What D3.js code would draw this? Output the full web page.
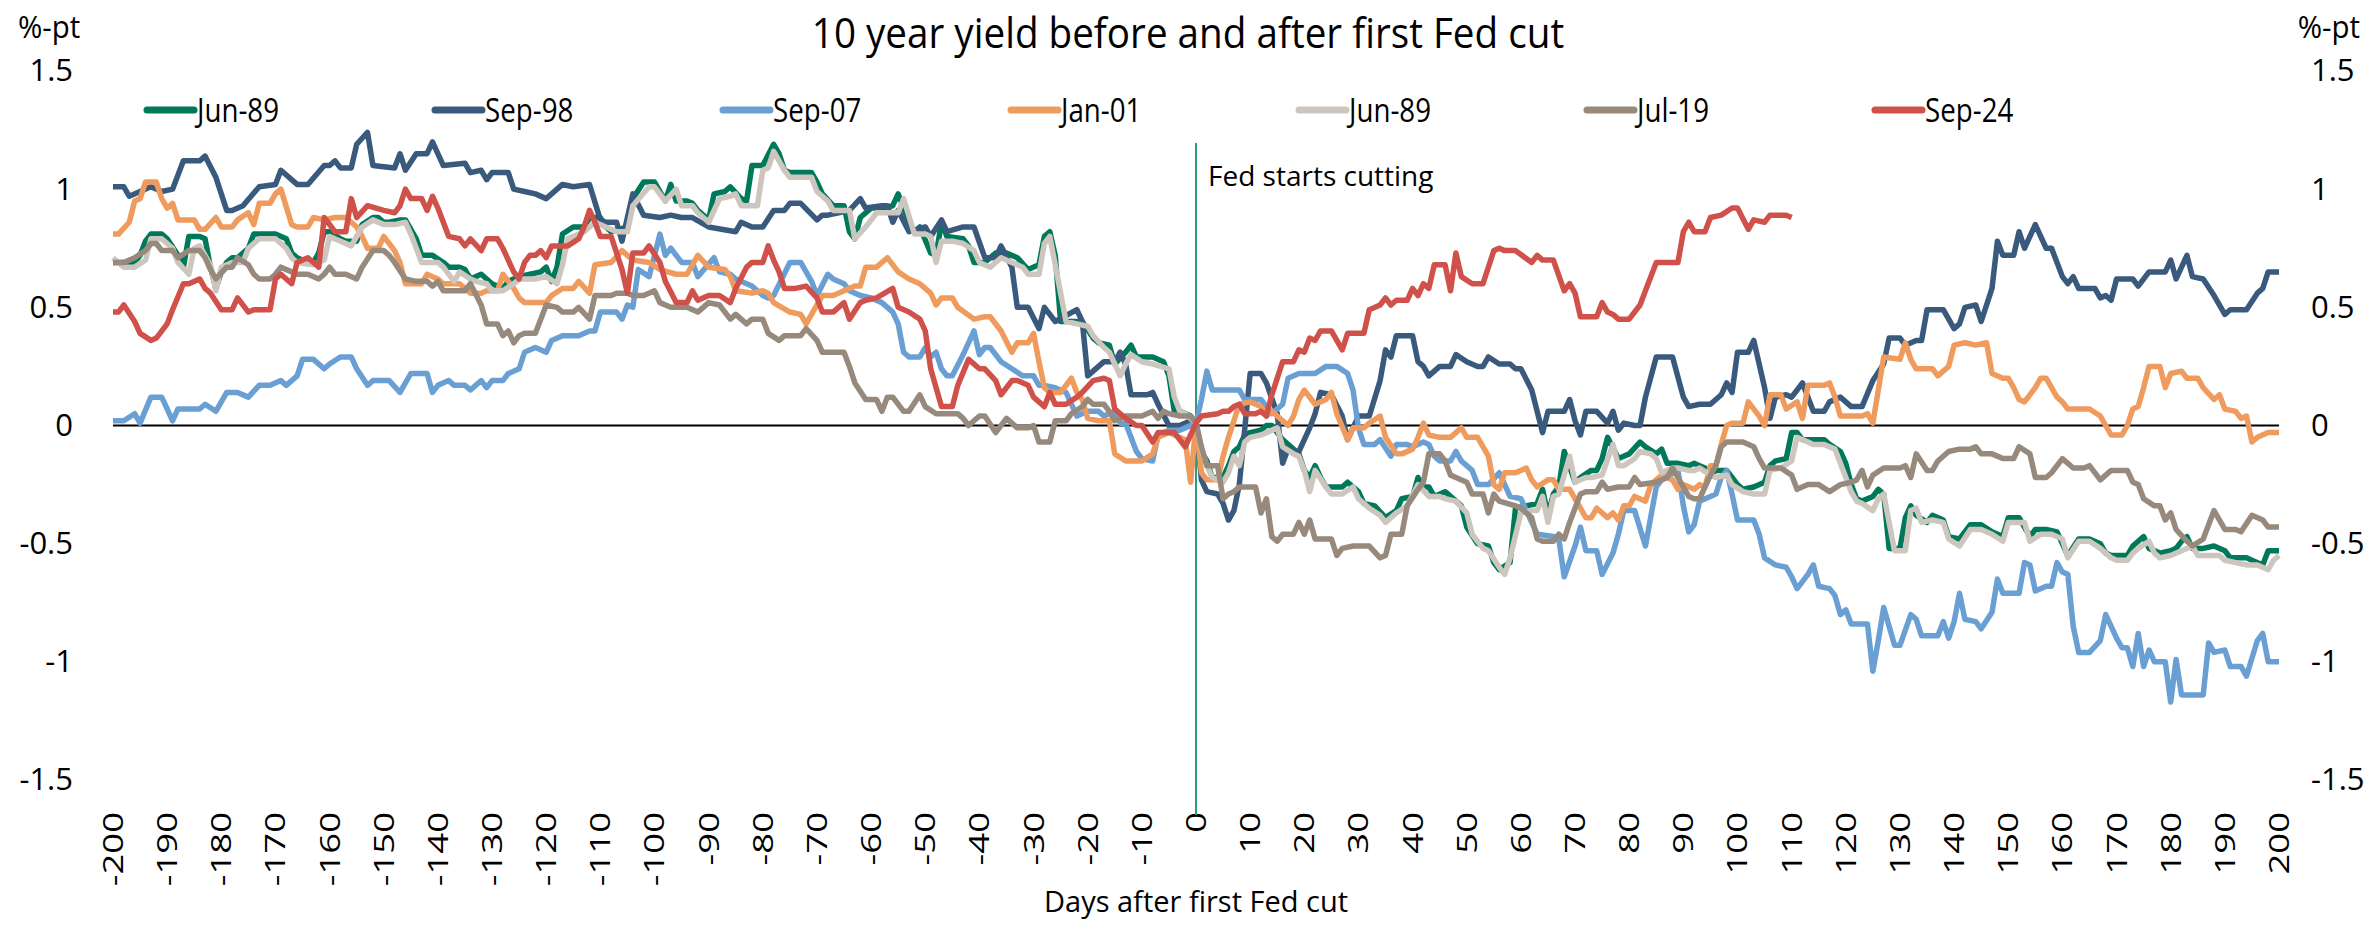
<!DOCTYPE html>
<html>
<head>
<meta charset="utf-8">
<script src="https://cdn.jsdelivr.net/npm/d3@7"></script>
<style>
  body { margin: 0; background: #fff; }
  text { font-family: "Open Sans", sans-serif; fill: #000; }
</style>
</head>
<body>
<div id="chart"></div>
<script>
// values, [day after first cut, change in %-pt]
var jun89 = [[-200,0.69],[-198,0.69],[-196,0.69],[-195,0.72],[-194,0.78],[-193,0.81],[-191,0.81],[-190,0.79],[-188,0.72],[-187,0.67],[-186,0.80],[-184,0.80],[-183,0.79],[-182,0.67],[-181,0.58],[-180,0.65],[-179,0.69],[-178,0.71],[-177,0.71],[-175,0.75],[-174,0.81],[-172,0.81],[-170,0.81],[-168,0.79],[-167,0.73],[-166,0.71],[-164,0.69],[-163,0.69],[-162,0.73],[-161,0.82],[-160,0.82],[-158,0.79],[-157,0.78],[-155,0.78],[-154,0.85],[-152,0.88],[-151,0.88],[-150,0.86],[-149,0.86],[-147,0.87],[-146,0.87],[-144,0.79],[-143,0.72],[-141,0.72],[-139,0.69],[-138,0.67],[-136,0.67],[-135,0.66],[-134,0.62],[-132,0.64],[-131,0.62],[-130,0.60],[-128,0.58],[-127,0.61],[-125,0.63],[-123,0.64],[-121,0.65],[-120,0.67],[-119,0.61],[-118,0.67],[-117,0.81],[-115,0.84],[-113,0.84],[-112,0.88],[-110,0.88],[-109,0.84],[-108,0.82],[-105,0.84],[-104,0.96],[-102,1.03],[-100,1.03],[-99,0.99],[-98,0.95],[-97,1.02],[-96,0.95],[-94,0.95],[-93,0.94],[-92,0.91],
  [-90,0.87],[-89,0.98],[-87,0.99],[-86,1.01],[-84,0.96],[-83,0.95],[-82,1.10],[-80,1.10],[-78,1.19],[-77,1.15],[-76,1.08],[-75,1.07],[-71,1.07],[-70,1.03],[-69,0.98],[-67,0.93],[-65,0.93],[-64,0.82],[-63,0.79],[-62,0.88],[-60,0.92],[-58,0.92],[-56,0.93],[-55,0.98],[-53,0.86],[-52,0.82],[-51,0.84],[-49,0.73],[-48,0.72],[-47,0.86],[-46,0.80],[-43,0.79],[-42,0.76],[-41,0.69],[-39,0.69],[-37,0.73],[-35,0.73],[-33,0.71],[-31,0.66],[-29,0.68],[-28,0.80],[-27,0.82],[-26,0.72],[-25,0.44],[-23,0.44],[-21,0.44],[-19,0.37],[-18,0.35],[-16,0.34],[-15,0.26],[-13,0.31],[-12,0.34],[-11,0.29],[-8,0.29],[-6,0.27],[-5,0.21],[-4,0.06],[-3,0.06],[-1,0.04],[0,0.01],
  [1,-0.11],[2,-0.15],[3,-0.22],[5,-0.22],[6,-0.17],[7,-0.11],[8,-0.09],[9,-0.04],[10,-0.03],[12,-0.02],[13,0.0],[14,0.0],[16,-0.06],[18,-0.10],[19,-0.12],[20,-0.19],[21,-0.22],[22,-0.17],[23,-0.22],[24,-0.26],[27,-0.26],[28,-0.24],[30,-0.28],[31,-0.33],[33,-0.34],[35,-0.39],[37,-0.36],[38,-0.31],[40,-0.30],[41,-0.22],[42,-0.26],[43,-0.26],[44,-0.30],[46,-0.28],[47,-0.30],[49,-0.34],[50,-0.43],[52,-0.50],[54,-0.51],[55,-0.58],[56,-0.61],[58,-0.58],[59,-0.35],[61,-0.34],[63,-0.33],[64,-0.27],[65,-0.38],[66,-0.29],[67,-0.26],[68,-0.11],[70,-0.24],[71,-0.22],[73,-0.19],[74,-0.19],[75,-0.14],[76,-0.05],[78,-0.14],[79,-0.13],[80,-0.12],[82,-0.07],[83,-0.09],[85,-0.12],[86,-0.10],[87,-0.16],[89,-0.16],[91,-0.17],[92,-0.16],
  [93,-0.17],[94,-0.18],[95,-0.21],[96,-0.19],[98,-0.19],[99,-0.22],[100,-0.25],[101,-0.27],[103,-0.26],[105,-0.24],[106,-0.17],[107,-0.15],[109,-0.14],[110,-0.03],[111,-0.03],[112,-0.06],[114,-0.06],[116,-0.06],[117,-0.08],[119,-0.11],[120,-0.16],[121,-0.25],[122,-0.31],[123,-0.32],[125,-0.30],[126,-0.27],[127,-0.29],[128,-0.52],[130,-0.52],[131,-0.39],[132,-0.34],[133,-0.38],[135,-0.41],[136,-0.38],[138,-0.40],[139,-0.47],[141,-0.48],[143,-0.42],[145,-0.42],[147,-0.45],[149,-0.47],[150,-0.39],[152,-0.39],[154,-0.47],[155,-0.44],[157,-0.44],[159,-0.45],[161,-0.55],[163,-0.48],[165,-0.48],[167,-0.50],[168,-0.54],[169,-0.55],[172,-0.55],[173,-0.51],[174,-0.49],[175,-0.47],[176,-0.52],[178,-0.54],[180,-0.53],[181,-0.52],[182,-0.49],[183,-0.47],[184,-0.52],[186,-0.52],[188,-0.51],[190,-0.53],[191,-0.56],[194,-0.56],[195,-0.57],[197,-0.59],[198,-0.53],[200,-0.53]];

var sep98 = [[-200,1.01],[-198,1.01],[-197,0.97],[-195,0.99],[-193,1.01],[-191,0.99],[-189,1.0],[-187,1.12],[-184,1.12],[-183,1.14],[-181,1.05],[-179,0.91],[-178,0.91],[-176,0.93],[-173,1.01],[-170,1.02],[-169,1.08],[-166,1.02],[-164,1.02],[-161,1.10],[-160,1.10],[-159,1.12],[-158,1.09],[-156,1.09],[-155,1.19],[-153,1.24],[-152,1.10],[-148,1.09],[-147,1.15],[-146,1.08],[-144,1.15],[-142,1.15],[-141,1.20],[-139,1.10],[-135,1.11],[-134,1.07],[-132,1.08],[-131,1.04],[-130,1.07],[-127,1.07],[-126,1.00],[-124,0.99],[-122,0.98],[-120,0.96],[-119,0.98],[-117,1.02],[-115,1.01],[-112,1.02],[-110,0.87],[-109,0.86],[-107,0.86],[-106,0.78],[-104,0.98],[-102,0.89],[-99,0.88],[-97,0.89],[-95,0.88],[-93,0.88],
  [-90,0.84],[-85,0.82],[-84,0.86],[-82,0.84],[-80,0.84],[-78,0.91],[-76,0.91],[-75,0.94],[-73,0.94],[-70,0.87],[-69,0.89],[-68,0.89],[-66,0.90],[-64,0.91],[-62,0.96],[-61,0.92],[-58,0.93],[-57,0.93],[-56,0.86],[-55,0.91],[-53,0.82],[-50,0.84],[-49,0.80],[-47,0.87],[-46,0.82],[-43,0.84],[-41,0.84],[-39,0.71],[-37,0.71],[-36,0.76],[-34,0.67],[-33,0.50],[-31,0.50],[-29,0.41],[-28,0.50],[-26,0.44],[-22,0.49],[-21,0.44],[-20,0.21],[-17,0.27],[-15,0.27],[-14,0.31],[-13,0.26],[-12,0.13],[-9,0.13],[-8,0.14],[-7,0.09],[-5,0.00],[-3,0.00],[-1,0.02],[0,0.01],
  [1,-0.23],[2,-0.28],[4,-0.29],[5,-0.33],[6,-0.40],[7,-0.36],[8,-0.25],[10,0.22],[12,0.22],[13,0.18],[15,0.05],[16,-0.16],[17,-0.10],[18,-0.11],[19,-0.11],[21,-0.01],[22,0.05],[23,0.14],[25,0.13],[27,0.04],[28,-0.06],[30,0.04],[32,0.04],[34,0.19],[35,0.32],[36,0.29],[37,0.38],[40,0.38],[41,0.27],[42,0.25],[43,0.21],[45,0.25],[47,0.25],[48,0.30],[50,0.27],[52,0.25],[53,0.25],[54,0.29],[56,0.26],[58,0.26],[59,0.24],[60,0.24],[62,0.15],[64,-0.03],[65,0.06],[68,0.06],[69,0.11],[70,0.02],[71,-0.04],[72,0.06],[74,0.06],[76,0.01],[77,0.06],[78,-0.02],[79,0.01],[81,0.0],[82,0.0],[83,0.12],[85,0.29],[88,0.29],[90,0.12],[91,0.08],[93,0.09],
  [95,0.09],[97,0.13],[98,0.18],[99,0.14],[100,0.31],[102,0.31],[103,0.36],[105,0.16],[106,0.03],[107,0.12],[109,0.13],[110,0.12],[112,0.18],[114,0.06],[116,0.06],[117,0.10],[119,0.12],[121,0.08],[123,0.08],[125,0.19],[127,0.26],[128,0.37],[130,0.37],[131,0.34],[133,0.36],[134,0.36],[135,0.49],[138,0.49],[140,0.41],[141,0.43],[142,0.50],[144,0.51],[145,0.44],[147,0.58],[148,0.78],[149,0.72],[151,0.72],[152,0.82],[153,0.75],[155,0.85],[157,0.75],[158,0.75],[160,0.63],[161,0.60],[162,0.63],[163,0.58],[166,0.58],[167,0.54],[168,0.55],[169,0.53],[170,0.62],[173,0.62],[174,0.59],[176,0.65],[179,0.65],[180,0.70],[181,0.62],[183,0.72],[184,0.63],[186,0.62],[188,0.55],[190,0.47],[191,0.49],[194,0.49],[196,0.56],[197,0.58],[198,0.65],[200,0.65]];

var sep07 = [[-200,0.02],[-198,0.02],[-196,0.05],[-195,0.01],[-193,0.12],[-191,0.12],[-190,0.07],[-189,0.02],[-188,0.07],[-184,0.07],[-183,0.09],[-181,0.06],[-179,0.14],[-177,0.14],[-175,0.12],[-173,0.17],[-171,0.17],[-169,0.19],[-168,0.17],[-166,0.21],[-165,0.28],[-163,0.28],[-161,0.24],[-160,0.26],[-158,0.29],[-156,0.29],[-155,0.24],[-153,0.17],[-152,0.19],[-149,0.19],[-147,0.14],[-145,0.22],[-142,0.22],[-141,0.14],[-140,0.17],[-138,0.19],[-137,0.17],[-135,0.17],[-134,0.15],[-132,0.19],[-131,0.16],[-130,0.19],[-128,0.19],[-127,0.22],[-125,0.24],[-124,0.31],[-122,0.33],[-120,0.31],[-119,0.36],[-117,0.38],[-114,0.38],[-112,0.40],[-111,0.40],[-110,0.48],[-107,0.48],[-106,0.45],[-105,0.51],[-104,0.50],[-103,0.66],[-101,0.63],[-99,0.81],[-98,0.72],[-97,0.75],[-95,0.69],[-93,0.69],
  [-92,0.63],[-89,0.71],[-88,0.65],[-86,0.64],[-85,0.62],[-82,0.59],[-80,0.55],[-79,0.54],[-78,0.55],[-75,0.69],[-73,0.69],[-71,0.61],[-70,0.55],[-68,0.64],[-67,0.62],[-65,0.60],[-64,0.57],[-62,0.55],[-60,0.54],[-58,0.52],[-56,0.48],[-55,0.43],[-54,0.31],[-53,0.29],[-51,0.29],[-50,0.33],[-49,0.29],[-48,0.31],[-47,0.24],[-46,0.21],[-45,0.21],[-43,0.30],[-41,0.40],[-40,0.30],[-39,0.33],[-38,0.33],[-36,0.27],[-34,0.24],[-32,0.21],[-30,0.21],[-29,0.17],[-28,0.17],[-26,0.16],[-24,0.14],[-22,0.04],[-20,0.06],[-18,0.06],[-17,0.04],[-15,0.06],[-14,0.01],[-13,0.01],[-11,-0.11],[-10,-0.14],[-8,-0.15],[-7,-0.04],[-5,-0.02],[-3,-0.02],[-2,-0.01],[0,0.01],
  [1,0.11],[2,0.23],[3,0.15],[5,0.15],[6,0.15],[8,0.15],[9,0.11],[11,0.11],[12,0.11],[14,0.05],[16,0.09],[17,0.20],[19,0.22],[22,0.22],[24,0.25],[26,0.25],[28,0.22],[29,0.15],[30,-0.01],[31,-0.08],[33,-0.08],[34,-0.06],[36,-0.13],[37,-0.08],[39,-0.08],[40,-0.09],[42,-0.07],[43,-0.08],[44,-0.13],[45,-0.15],[47,-0.15],[48,-0.11],[49,-0.15],[51,-0.19],[52,-0.25],[54,-0.25],[56,-0.20],[58,-0.30],
  [60,-0.31],[62,-0.41],[63,-0.46],[66,-0.47],[67,-0.48],[68,-0.64],[70,-0.51],[71,-0.43],[72,-0.53],[74,-0.53],[75,-0.63],[77,-0.54],[78,-0.46],[79,-0.36],[81,-0.36],[83,-0.51],[85,-0.26],[86,-0.23],[89,-0.19],[90,-0.34],[91,-0.45],[92,-0.42],
  [93,-0.32],[95,-0.30],[96,-0.29],[97,-0.22],[98,-0.19],[99,-0.29],[100,-0.40],[103,-0.40],[104,-0.46],[105,-0.56],[107,-0.59],[109,-0.60],[110,-0.64],[111,-0.69],[113,-0.63],[114,-0.59],[115,-0.68],[117,-0.69],[118,-0.72],[119,-0.80],[120,-0.78],[121,-0.84],[124,-0.84],[125,-1.04],[126,-0.91],[127,-0.77],[129,-0.93],[130,-0.93],[132,-0.80],[133,-0.82],[134,-0.89],[137,-0.89],[138,-0.83],[139,-0.90],[140,-0.83],[141,-0.71],[142,-0.82],[144,-0.83],[145,-0.86],[147,-0.79],[148,-0.65],[149,-0.71],[152,-0.71],[153,-0.58],[154,-0.59],[155,-0.70],[157,-0.68],[158,-0.68],[159,-0.58],[160,-0.62],[161,-0.63],[162,-0.85],[163,-0.96],[165,-0.96],[167,-0.91],[168,-0.80],[170,-0.90],[171,-0.94],[172,-0.94],[173,-1.02],[174,-0.88],[175,-1.02],[176,-0.95],[177,-1.00],[179,-1.00],[180,-1.17],[181,-0.99],[182,-1.14],[186,-1.14],[187,-0.92],[188,-0.96],[190,-0.95],[191,-1.02],[193,-1.02],[194,-1.06],[196,-0.91],[197,-0.88],[198,-1.00],[200,-1.00]];

var jan01 = [[-200,0.81],[-199,0.81],[-197,0.86],[-196,0.95],[-195,0.96],[-194,1.03],[-192,1.03],[-191,0.96],[-190,0.92],[-189,0.94],[-188,0.87],[-185,0.87],[-184,0.83],[-183,0.83],[-181,0.88],[-180,0.84],[-178,0.84],[-177,0.87],[-175,0.90],[-174,0.85],[-173,0.94],[-171,0.94],[-170,0.98],[-169,1.0],[-167,0.85],[-166,0.84],[-164,0.84],[-163,0.88],[-161,0.87],[-159,0.88],[-157,0.88],[-155,0.84],[-154,0.80],[-153,0.75],[-151,0.75],[-150,0.80],[-148,0.74],[-147,0.69],[-146,0.60],[-143,0.60],[-142,0.64],[-140,0.62],[-139,0.60],[-136,0.60],[-134,0.56],[-132,0.56],[-131,0.57],[-129,0.57],[-128,0.64],[-126,0.58],[-125,0.54],[-124,0.52],[-120,0.52],[-119,0.55],[-117,0.58],[-115,0.58],[-114,0.61],[-112,0.56],[-111,0.68],[-108,0.69],[-106,0.74],[-105,0.72],[-104,0.70],[-101,0.69],[-99,0.66],[-96,0.64],[-94,0.64],[-92,0.72],
  [-90,0.67],[-87,0.66],[-86,0.63],[-85,0.57],[-82,0.56],[-80,0.57],[-79,0.56],[-78,0.52],[-75,0.48],[-73,0.47],[-72,0.43],[-70,0.51],[-69,0.55],[-67,0.55],[-65,0.57],[-63,0.59],[-62,0.59],[-61,0.67],[-59,0.67],[-57,0.71],[-55,0.65],[-53,0.62],[-51,0.60],[-49,0.56],[-48,0.51],[-47,0.54],[-45,0.54],[-44,0.50],[-41,0.45],[-39,0.46],[-38,0.46],[-36,0.40],[-34,0.31],[-33,0.35],[-31,0.35],[-30,0.39],[-29,0.27],[-28,0.16],[-27,0.14],[-25,0.14],[-23,0.20],[-22,0.14],[-21,0.11],[-20,0.03],[-18,0.02],[-16,0.02],[-15,-0.12],[-13,-0.15],[-10,-0.15],[-8,-0.12],[-7,-0.05],[-5,-0.03],[-4,-0.04],[-2,-0.06],[-1,-0.24],[0,0.01],
  [1,-0.20],[2,-0.23],[4,-0.23],[5,-0.13],[6,-0.05],[7,0.02],[8,0.09],[10,0.10],[12,0.08],[13,0.04],[14,0.06],[15,0.04],[17,0.0],[18,0.04],[19,0.11],[20,0.15],[22,0.09],[24,0.11],[25,0.14],[26,0.05],[28,-0.06],[29,-0.01],[31,-0.01],[32,0.01],[34,0.04],[35,-0.05],[37,-0.12],[38,-0.12],[40,-0.10],[41,-0.05],[42,0.01],[43,-0.04],[45,-0.05],[47,-0.05],[49,-0.01],[50,-0.05],[52,-0.05],[54,-0.13],[55,-0.25],[56,-0.27],[57,-0.20],[59,-0.20],[61,-0.18],[62,-0.23],[63,-0.26],[65,-0.23],[66,-0.23],[67,-0.27],[69,-0.27],[71,-0.35],[72,-0.39],[73,-0.39],[74,-0.35],[76,-0.39],[77,-0.37],[78,-0.40],[79,-0.34],[80,-0.34],[81,-0.30],[83,-0.32],[84,-0.25],[86,-0.21],[88,-0.23],[89,-0.27],[90,-0.25],[92,-0.27],
  [93,-0.25],[94,-0.26],[95,-0.17],[96,-0.17],[97,-0.08],[98,0.0],[99,0.01],[101,0.01],[102,0.10],[104,0.04],[105,0.0],[106,0.13],[108,0.13],[109,0.07],[111,0.10],[112,0.03],[113,0.17],[116,0.17],[117,0.18],[118,0.12],[119,0.04],[123,0.04],[124,0.05],[125,0.01],[127,0.29],[130,0.28],[131,0.35],[132,0.28],[133,0.24],[136,0.24],[137,0.21],[139,0.25],[140,0.34],[142,0.35],[144,0.34],[146,0.35],[147,0.22],[149,0.20],[150,0.20],[151,0.16],[152,0.11],[153,0.10],[155,0.16],[156,0.20],[157,0.20],[159,0.12],[160,0.10],[161,0.07],[163,0.07],[165,0.07],[167,0.04],[168,0.0],[169,-0.04],[171,-0.04],[172,0.0],[173,0.07],[174,0.08],[175,0.16],[176,0.25],[178,0.25],[179,0.16],[180,0.22],[182,0.23],[183,0.20],[185,0.20],[186,0.16],[188,0.11],[189,0.13],[190,0.07],[192,0.06],[193,0.03],[194,0.04],[195,-0.07],[196,-0.05],[198,-0.03],[200,-0.03]];

var jun89b = [[-200,0.71],[-198,0.67],[-196,0.67],[-194,0.70],[-193,0.79],[-191,0.79],[-189,0.75],[-188,0.69],[-186,0.64],[-185,0.75],[-184,0.76],[-182,0.68],[-181,0.57],[-180,0.67],[-178,0.69],[-176,0.69],[-175,0.75],[-173,0.79],[-170,0.79],[-168,0.75],[-167,0.71],[-166,0.69],[-163,0.68],[-161,0.70],[-160,0.80],[-158,0.78],[-156,0.76],[-154,0.84],[-152,0.87],[-150,0.85],[-148,0.85],[-146,0.86],[-145,0.81],[-143,0.69],[-140,0.69],[-139,0.67],[-137,0.61],[-136,0.65],[-134,0.62],[-133,0.61],[-131,0.60],[-130,0.57],[-128,0.57],[-126,0.60],[-125,0.62],[-122,0.62],[-120,0.63],[-118,0.60],[-117,0.68],[-116,0.79],[-113,0.82],[-111,0.86],[-109,0.84],[-107,0.82],[-105,0.82],[-104,0.93],[-101,1.01],[-100,1.01],[-98,0.95],[-96,1.0],[-95,0.93],[-93,0.93],[-92,0.90],
  [-90,0.86],[-88,0.96],[-86,0.97],[-85,0.98],[-84,0.93],[-81,0.93],[-80,1.08],[-79,1.09],[-78,1.16],[-76,1.08],[-75,1.05],[-71,1.05],[-70,0.99],[-68,0.95],[-67,0.91],[-64,0.91],[-63,0.79],[-61,0.84],[-59,0.90],[-57,0.90],[-55,0.90],[-54,0.96],[-52,0.81],[-50,0.81],[-49,0.80],[-48,0.69],[-47,0.78],[-45,0.78],[-43,0.77],[-41,0.74],[-40,0.69],[-38,0.67],[-36,0.71],[-34,0.69],[-32,0.67],[-31,0.64],[-29,0.64],[-28,0.77],[-27,0.80],[-26,0.68],[-24,0.44],[-22,0.43],[-20,0.42],[-19,0.38],[-17,0.33],[-16,0.31],[-14,0.21],[-13,0.26],[-12,0.30],[-10,0.27],[-8,0.26],[-5,0.24],[-4,0.12],[-3,0.06],[-2,0.05],[0,0.01],
  [1,-0.10],[2,-0.17],[3,-0.22],[5,-0.24],[6,-0.20],[7,-0.13],[8,-0.17],[9,-0.07],[10,-0.05],[12,-0.04],[14,-0.02],[15,-0.01],[16,-0.09],[18,-0.12],[19,-0.13],[20,-0.19],[21,-0.28],[22,-0.19],[24,-0.26],[25,-0.29],[27,-0.29],[29,-0.26],[30,-0.31],[32,-0.35],[34,-0.38],[35,-0.41],[37,-0.37],[39,-0.34],[41,-0.25],[43,-0.30],[45,-0.30],[46,-0.31],[48,-0.32],[50,-0.37],[51,-0.46],[53,-0.52],[54,-0.53],[56,-0.60],[57,-0.63],[58,-0.56],[60,-0.37],[62,-0.36],[63,-0.36],[64,-0.30],[65,-0.41],[66,-0.30],[67,-0.29],[69,-0.13],[70,-0.24],[72,-0.22],[73,-0.22],[75,-0.21],[77,-0.08],[78,-0.17],[79,-0.17],[81,-0.14],[82,-0.11],[84,-0.12],[85,-0.14],[86,-0.20],[88,-0.18],[89,-0.18],[91,-0.19],[92,-0.19],
  [93,-0.18],[95,-0.21],[96,-0.22],[98,-0.21],[99,-0.25],[101,-0.28],[103,-0.29],[105,-0.29],[106,-0.19],[108,-0.18],[110,-0.15],[111,-0.05],[113,-0.07],[114,-0.08],[116,-0.08],[118,-0.10],[119,-0.16],[121,-0.28],[122,-0.32],[123,-0.33],[125,-0.36],[126,-0.31],[127,-0.29],[129,-0.53],[131,-0.53],[132,-0.36],[133,-0.35],[134,-0.41],[136,-0.40],[138,-0.41],[139,-0.48],[141,-0.51],[143,-0.44],[145,-0.44],[147,-0.46],[149,-0.49],[150,-0.41],[153,-0.41],[154,-0.49],[156,-0.46],[158,-0.46],[160,-0.48],[161,-0.56],[163,-0.49],[165,-0.49],[167,-0.52],[169,-0.56],[170,-0.57],[172,-0.57],[173,-0.54],[174,-0.52],[176,-0.49],[177,-0.54],[178,-0.56],[180,-0.55],[182,-0.53],[184,-0.51],[185,-0.55],[187,-0.55],[189,-0.55],[190,-0.57],[192,-0.58],[194,-0.59],[196,-0.59],[198,-0.61],[199,-0.57],[200,-0.55]];

var jul19 = [[-200,0.69],[-198,0.69],[-196,0.71],[-194,0.74],[-193,0.77],[-192,0.77],[-191,0.74],[-189,0.74],[-188,0.71],[-186,0.74],[-184,0.74],[-183,0.71],[-182,0.66],[-181,0.62],[-179,0.67],[-178,0.67],[-177,0.71],[-175,0.68],[-174,0.64],[-173,0.62],[-171,0.62],[-170,0.64],[-169,0.67],[-167,0.65],[-166,0.64],[-164,0.64],[-162,0.62],[-161,0.64],[-160,0.67],[-159,0.64],[-157,0.64],[-155,0.62],[-154,0.67],[-152,0.74],[-150,0.74],[-149,0.72],[-148,0.69],[-146,0.62],[-144,0.61],[-142,0.61],[-141,0.59],[-140,0.61],[-139,0.57],[-137,0.57],[-135,0.57],[-134,0.60],[-132,0.51],[-131,0.43],[-129,0.43],[-128,0.38],[-127,0.40],[-126,0.35],[-125,0.38],[-124,0.39],[-122,0.39],[-121,0.45],[-120,0.51],[-118,0.50],[-117,0.48],[-115,0.48],[-114,0.50],[-112,0.45],[-111,0.55],[-108,0.55],[-107,0.56],[-105,0.56],[-104,0.55],[-102,0.55],[-100,0.57],[-99,0.52],[-97,0.50],[-94,0.50],[-92,0.48],
  [-90,0.52],[-88,0.51],[-87,0.48],[-86,0.45],[-85,0.47],[-83,0.43],[-82,0.45],[-80,0.45],[-79,0.39],[-77,0.36],[-76,0.38],[-73,0.38],[-72,0.41],[-70,0.36],[-69,0.31],[-67,0.31],[-65,0.31],[-64,0.25],[-63,0.18],[-61,0.11],[-59,0.11],[-58,0.06],[-57,0.12],[-56,0.12],[-54,0.06],[-53,0.06],[-51,0.13],[-50,0.08],[-48,0.05],[-46,0.05],[-44,0.05],[-43,0.03],[-42,0.0],[-40,0.04],[-39,0.04],[-37,-0.03],[-35,0.03],[-33,-0.01],[-31,-0.01],[-30,0.0],[-29,-0.07],[-27,-0.07],[-26,0.02],[-24,0.02],[-23,0.05],[-21,0.08],[-20,0.11],[-19,0.09],[-17,0.09],[-16,0.06],[-15,0.02],[-13,0.04],[-11,0.04],[-10,0.04],[-8,0.06],[-7,0.03],[-6,0.06],[-5,0.05],[-3,0.04],[-1,0.04],[0,0.01],
  [1,-0.09],[2,-0.17],[4,-0.17],[5,-0.31],[6,-0.29],[7,-0.28],[8,-0.26],[11,-0.26],[12,-0.37],[13,-0.31],[14,-0.47],[15,-0.49],[16,-0.46],[18,-0.46],[19,-0.41],[20,-0.46],[21,-0.40],[22,-0.48],[25,-0.48],[26,-0.55],[27,-0.52],[29,-0.51],[32,-0.51],[34,-0.56],[35,-0.55],[36,-0.46],[38,-0.46],[39,-0.34],[41,-0.27],[42,-0.24],[43,-0.12],[45,-0.12],[46,-0.15],[47,-0.21],[48,-0.22],[50,-0.24],[51,-0.29],[53,-0.29],[54,-0.37],[55,-0.29],[56,-0.32],[59,-0.34],[60,-0.35],[62,-0.39],[63,-0.48],[64,-0.49],[66,-0.49],[67,-0.46],[68,-0.48],[69,-0.41],[71,-0.29],[72,-0.28],[74,-0.28],[75,-0.24],[76,-0.27],[78,-0.26],[80,-0.26],[81,-0.22],[82,-0.25],[85,-0.24],[87,-0.22],[88,-0.18],[89,-0.22],[91,-0.30],[92,-0.31],
  [93,-0.31],[95,-0.21],[96,-0.17],[97,-0.09],[98,-0.07],[101,-0.07],[103,-0.09],[104,-0.14],[105,-0.18],[106,-0.18],[108,-0.18],[110,-0.21],[111,-0.27],[113,-0.25],[115,-0.25],[117,-0.28],[119,-0.25],[121,-0.24],[122,-0.23],[123,-0.19],[124,-0.26],[125,-0.21],[127,-0.18],[129,-0.18],[130,-0.18],[131,-0.17],[132,-0.22],[133,-0.12],[135,-0.19],[136,-0.19],[137,-0.15],[139,-0.11],[141,-0.10],[143,-0.10],[144,-0.09],[145,-0.12],[147,-0.12],[149,-0.14],[151,-0.14],[152,-0.09],[154,-0.12],[155,-0.22],[157,-0.22],[158,-0.20],[160,-0.14],[162,-0.18],[164,-0.18],[165,-0.17],[167,-0.23],[169,-0.19],[172,-0.19],[173,-0.24],[174,-0.25],[175,-0.31],[177,-0.34],[178,-0.34],[179,-0.40],[180,-0.37],[181,-0.44],[183,-0.49],[184,-0.51],[186,-0.48],[187,-0.42],[188,-0.36],[190,-0.44],[192,-0.44],[193,-0.45],[195,-0.38],[197,-0.40],[198,-0.43],[200,-0.43]];

var sep24 = [[-200,0.48],[-199,0.48],[-198,0.51],[-196,0.44],[-195,0.39],[-193,0.36],[-192,0.37],[-190,0.43],[-189,0.49],[-187,0.60],[-186,0.60],[-184,0.62],[-183,0.58],[-182,0.56],[-180,0.49],[-178,0.49],[-177,0.54],[-175,0.48],[-174,0.49],[-171,0.49],[-170,0.62],[-169,0.64],[-167,0.60],[-166,0.69],[-165,0.70],[-164,0.71],[-162,0.67],[-161,0.88],[-159,0.82],[-157,0.82],[-156,0.96],[-155,0.88],[-153,0.93],[-150,0.91],[-148,0.90],[-147,0.93],[-146,1.0],[-145,0.96],[-143,0.96],[-142,0.91],[-141,0.97],[-140,0.92],[-139,0.86],[-138,0.80],[-136,0.79],[-135,0.76],[-134,0.79],[-132,0.74],[-131,0.79],[-129,0.79],[-128,0.75],[-126,0.65],[-125,0.62],[-124,0.69],[-123,0.72],[-122,0.72],[-121,0.74],[-120,0.71],[-119,0.76],[-116,0.76],[-114,0.79],[-113,0.84],[-112,0.91],[-111,0.86],[-110,0.80],[-108,0.80],[-107,0.73],[-106,0.66],[-105,0.56],[-104,0.73],[-102,0.73],[-101,0.76],[-99,0.69],[-98,0.61],[-96,0.52],[-94,0.52],[-93,0.57],[-92,0.53],
  [-90,0.55],[-88,0.55],[-86,0.52],[-85,0.58],[-83,0.67],[-82,0.69],[-80,0.69],[-79,0.76],[-78,0.70],[-77,0.65],[-76,0.58],[-74,0.58],[-72,0.59],[-70,0.54],[-69,0.48],[-67,0.48],[-65,0.52],[-64,0.45],[-62,0.52],[-61,0.53],[-59,0.54],[-56,0.58],[-55,0.50],[-53,0.48],[-51,0.45],[-50,0.40],[-49,0.24],[-47,0.08],[-45,0.08],[-44,0.17],[-42,0.28],[-40,0.24],[-39,0.24],[-37,0.19],[-36,0.13],[-34,0.19],[-33,0.19],[-31,0.17],[-30,0.12],[-28,0.08],[-27,0.14],[-26,0.09],[-24,0.09],[-22,0.12],[-21,0.14],[-19,0.19],[-17,0.20],[-16,0.19],[-15,0.07],[-13,0.03],[-11,0.0],[-10,0.0],[-8,-0.07],[-7,-0.03],[-4,-0.03],[-2,-0.09],[0,0.01],
  [1,0.04],[4,0.05],[5,0.06],[6,0.06],[7,0.08],[8,0.09],[9,0.05],[11,0.05],[12,0.06],[13,0.04],[14,0.13],[16,0.27],[18,0.27],[19,0.32],[20,0.31],[21,0.37],[22,0.36],[23,0.40],[25,0.40],[27,0.32],[28,0.39],[31,0.39],[32,0.49],[34,0.51],[35,0.54],[36,0.51],[37,0.53],[39,0.53],[40,0.58],[41,0.55],[42,0.60],[43,0.58],[44,0.68],[46,0.68],[47,0.57],[48,0.73],[49,0.63],[51,0.60],[53,0.60],[55,0.74],[56,0.75],[57,0.74],[59,0.74],[62,0.69],[63,0.72],[64,0.70],[66,0.70],[68,0.57],[69,0.60],[70,0.56],[71,0.46],[74,0.46],[75,0.52],[76,0.48],[77,0.47],[78,0.45],[80,0.45],[82,0.51],[83,0.57],[85,0.69],[87,0.69],[89,0.69],[90,0.82],[91,0.86],[92,0.82],
  [94,0.82],[95,0.88],[97,0.89],[99,0.92],[100,0.92],[102,0.83],[103,0.87],[105,0.86],[106,0.89],[109,0.89],[110,0.88]];

var seriesData = [jun89, sep98, sep07, jan01, jun89b, jul19, sep24];
var seriesNames = ["Jun-89", "Sep-98", "Sep-07", "Jan-01", "Jun-89", "Jul-19", "Sep-24"];
var seriesColors = ["#00785a", "#395a7d", "#6a9fd4", "#ef9b5d", "#cdc6bf", "#978a7c", "#cf514a"];
var yTicks = [-1.5, -1, -0.5, 0, 0.5, 1, 1.5];
var xTicks = d3.range(-200, 201, 10);

var width = 2377, height = 927;

var svg = d3.select("#chart")
  .append("svg")
    .attr("width", width)
    .attr("height", height);

var x = d3.scaleLinear().domain([-200, 200]).range([113, 2279]);
var y = d3.scaleLinear().domain([-1.5, 1.5]).range([780, 71]);

// the source font is a bit narrower than Open Sans, so squeeze text sideways
function label(px, py, str, size, squeeze, anchor) {
  return svg.append("text")
    .attr("transform", "translate(" + px + "," + py + ") scale(" + squeeze + ",1)")
    .attr("dy", "0.35em")
    .attr("text-anchor", anchor || "start")
    .style("font-size", size + "px")
    .text(str);
}

// title
label(1188, 33, "10 year yield before and after first Fed cut", 42, 0.92, "middle");

// unit labels
label(18, 27, "%-pt", 31, 0.95);
label(2360, 27, "%-pt", 31, 0.95, "end");

// y axes, labels only
var yLeft = svg.append("g")
  .attr("transform", "translate(73,0)")
  .call(d3.axisLeft(y).tickValues(yTicks).tickSize(0).tickPadding(0).tickFormat(function(d) { return String(d); }));
var yRight = svg.append("g")
  .attr("transform", "translate(2311,0)")
  .call(d3.axisRight(y).tickValues(yTicks).tickSize(0).tickPadding(0).tickFormat(function(d) { return String(d); }));
[yLeft, yRight].forEach(function(g) {
  g.select(".domain").remove();
  g.selectAll("text").style("font-size", "31px").style("font-family", "'Open Sans', sans-serif").attr("fill", "#000");
});

// x axis, rotated labels
var xAxis = svg.append("g")
  .attr("transform", "translate(0,812)")
  .call(d3.axisBottom(x).tickValues(xTicks).tickSize(0).tickPadding(0).tickFormat(function(d) { return String(d); }));
xAxis.select(".domain").remove();
xAxis.selectAll("text")
  .attr("y", 0)
  .attr("x", 0)
  .attr("dy", "0.35em")
  .attr("text-anchor", "end")
  .attr("transform", "rotate(-90) scale(1.35,1)")
  .attr("fill", "#000")
  .style("font-size", "27px")
  .style("font-family", "'Open Sans', sans-serif");

label(1196, 902, "Days after first Fed cut", 29, 1, "middle");

// zero line
svg.append("line")
  .attr("x1", x(-200)).attr("x2", x(200))
  .attr("y1", y(0)).attr("y2", y(0))
  .attr("stroke", "#000").attr("stroke-width", 2);

// Fed cut marker
svg.append("line")
  .attr("x1", x(0)).attr("x2", x(0))
  .attr("y1", 143).attr("y2", 815)
  .attr("stroke", "#2a9d7f").attr("stroke-width", 2);
label(x(0) + 12, 176, "Fed starts cutting", 28, 1);

// lines
var line = d3.line()
  .x(function(d) { return x(d[0]); })
  .y(function(d) { return y(d[1]); });

seriesData.forEach(function(data, i) {
  svg.append("path")
    .datum(data)
    .attr("fill", "none")
    .attr("stroke", seriesColors[i])
    .attr("stroke-width", 5.5)
    .attr("stroke-linejoin", "round")
    .attr("d", line);
});

// legend
seriesNames.forEach(function(name, i) {
  var lx = 147 + i * 288;
  svg.append("line")
    .attr("x1", lx).attr("x2", lx + 47)
    .attr("y1", 110).attr("y2", 110)
    .attr("stroke", seriesColors[i])
    .attr("stroke-width", 7)
    .attr("stroke-linecap", "round");
  label(lx + 50, 110, name, 33, 0.84);
});
</script>
</body>
</html>
